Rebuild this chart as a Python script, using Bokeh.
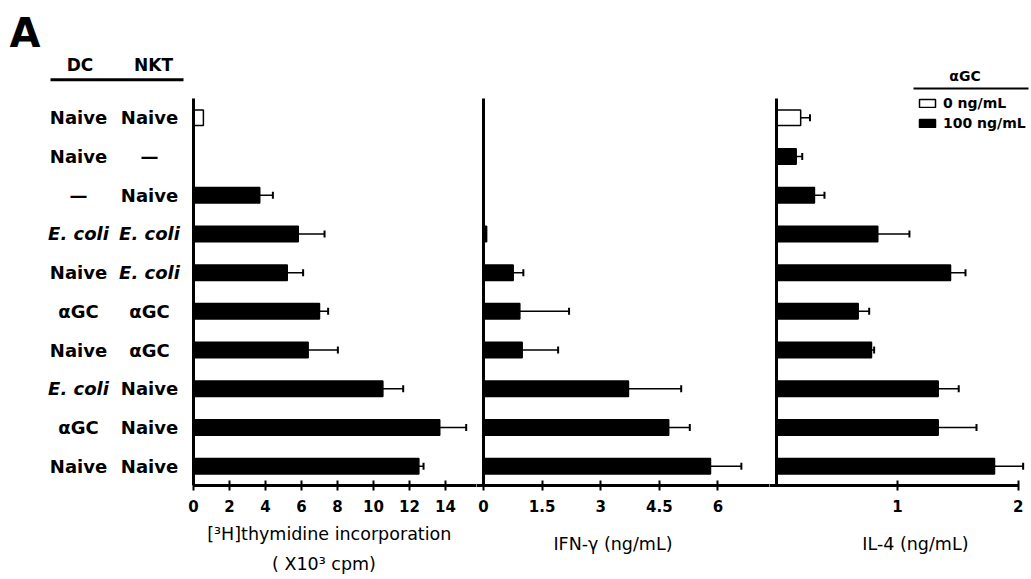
from bokeh.plotting import figure
from bokeh.layouts import row
from bokeh.models import (ColumnDataSource, Range1d, FixedTicker, Whisker, TeeHead,
                          Title, Legend, LegendItem)
from bokeh.transform import factor_cmap
from bokeh.core.properties import value
from bokeh.embed import file_html
from bokeh.resources import INLINE

# ---------------- data ----------------
dc_labels = ["Naive", "Naive", "\u2014", "E. coli", "Naive", "\u03b1GC", "Naive", "E. coli", "\u03b1GC", "Naive"]
nkt_labels = ["Naive", "\u2014", "Naive", "E. coli", "E. coli", "\u03b1GC", "\u03b1GC", "Naive", "Naive", "Naive"]
agc_levels = ["0 ng/mL", "100 ng/mL"]
agc_dose = ["0 ng/mL"] + ["100 ng/mL"] * 9

thy = [0.55, 0.0, 3.68, 5.82, 5.21, 7.00, 6.37, 10.52, 13.68, 12.52]
thy_err = [0.0, 0.0, 0.73, 1.46, 0.88, 0.48, 1.65, 1.13, 1.47, 0.26]
ifn = [0.0, 0.0, 0.0, 0.08, 0.76, 0.93, 0.99, 3.71, 4.74, 5.81]
ifn_err = [0.0, 0.0, 0.0, 0.0, 0.26, 1.26, 0.92, 1.35, 0.54, 0.79]
il4 = [0.20, 0.163, 0.314, 0.838, 1.44, 0.676, 0.786, 1.338, 1.338, 1.804]
il4_err = [0.077, 0.05, 0.083, 0.262, 0.124, 0.091, 0.022, 0.17, 0.317, 0.237]

thy_ticks = [0, 2, 4, 6, 8, 10, 12, 14]
thy_tick_labels = ["0", "2", "4", "6", "8", "10", "12", "14"]
ifn_ticks = [0, 1.5, 3, 4.5, 6]
ifn_tick_labels = ["0", "1.5", "3", "4.5", "6"]
il4_ticks = [1, 2]
il4_tick_labels = ["1", "2"]

thy_title = ["[\u00b3H]thymidine incorporation", "( X10\u00b3 cpm)"]
ifn_title = "IFN-\u03b3 (ng/mL)"
il4_title = "IL-4 (ng/mL)"

# ---------------- layout constants ----------------
FONT = "DejaVu Sans"
H = 579
SPINE_BOTTOM = 485
BOTTOM = H - SPINE_BOTTOM
N = len(dc_labels)
ROW_PX = 38.7
SPINE_TOP = 98.0


def ry(canvas_y):
    return -0.5 + (canvas_y - SPINE_TOP) / ROW_PX


Y_TOP = ry(0)
Y_BOTTOM = N - 0.5

rows = list(range(N))


def make_panel(width, frame_left, zero_px, px_per_unit, vals, errs, ticks, tick_labels,
               axis_from_zero, axis_end=None):
    x_start = (frame_left - zero_px) / px_per_unit
    x_end = x_start + width / px_per_unit
    p = figure(width=width, height=H, x_range=Range1d(x_start, x_end),
               y_range=Range1d(Y_BOTTOM, Y_TOP), output_backend="svg",
               toolbar_location=None, y_axis_location=None,
               min_border_left=0, min_border_right=0, min_border_top=0,
               min_border_bottom=BOTTOM, outline_line_color=None,
               background_fill_color=None, border_fill_color=None)
    p.grid.visible = False
    src = ColumnDataSource(dict(row=rows, val=vals, dose=agc_dose))
    bars = p.hbar(y="row", left=0, right="val", height=0.4, source=src,
                  fill_color=factor_cmap("dose", ["white", "black"], agc_levels),
                  line_color="black", line_width=1.5)
    wr = [i for i in rows if errs[i] > 0]
    wsrc = ColumnDataSource(dict(row=[rows[i] for i in wr],
                                 lower=[vals[i] for i in wr],
                                 upper=[vals[i] + errs[i] for i in wr]))
    w = Whisker(source=wsrc, base="row", lower="lower", upper="upper",
                dimension="width", line_width=1.5, line_color="black",
                upper_head=TeeHead(size=7, line_width=2, line_color="black"),
                lower_head=None, level="glyph")
    p.add_layout(w)
    # y spine at x = 0 over the category band
    p.segment(x0=[0], y0=[-0.5], x1=[0], y1=[Y_BOTTOM], line_width=3, line_color="black")
    ax = p.xaxis[0]
    ax.ticker = FixedTicker(ticks=ticks, minor_ticks=[])
    ax.major_label_overrides = {float(t): l for t, l in zip(ticks, tick_labels)}
    b0 = 0 if axis_from_zero else x_start
    b1 = axis_end if axis_end is not None else x_end
    ax.bounds = (b0, b1)
    ax.axis_line_width = 3
    ax.axis_line_color = "black"
    ax.major_tick_line_width = 2
    ax.major_tick_line_color = "black"
    ax.major_tick_in = 5
    ax.major_tick_out = 5
    ax.minor_tick_line_color = None
    ax.major_label_text_font = FONT
    ax.major_label_text_font_style = "bold"
    ax.major_label_text_font_size = "15px"
    ax.major_label_text_color = "black"
    ax.major_label_standoff = 9
    return p, bars


def add_title(p, text, offset, standoff):
    p.add_layout(Title(text=text, align="left", offset=offset, standoff=standoff,
                       text_font=FONT, text_font_size="17.5px", text_font_style="normal",
                       text_color="black"), "below")


# ---------------- label column figure ----------------
f0 = figure(width=186, height=H, x_range=Range1d(0, 186), y_range=Range1d(Y_BOTTOM, Y_TOP),
            output_backend="svg", toolbar_location=None, x_axis_location=None,
            y_axis_location=None, min_border_left=0, min_border_right=0, min_border_top=0,
            min_border_bottom=BOTTOM, outline_line_color=None,
            background_fill_color=None, border_fill_color=None)
f0.grid.visible = False
lsrc = ColumnDataSource(dict(
    row=rows, dc=dc_labels, nkt=nkt_labels,
    dc_style=["bold italic" if "coli" in s else "bold" for s in dc_labels],
    nkt_style=["bold italic" if "coli" in s else "bold" for s in nkt_labels]))
f0.text(x=78, y="row", text="dc", source=lsrc, text_font=value(FONT),
        text_font_style="dc_style", text_font_size=value("18px"),
        text_align="center", text_baseline="middle", text_color="black")
f0.text(x=149, y="row", text="nkt", source=lsrc, text_font=value(FONT),
        text_font_style="nkt_style", text_font_size=value("18px"),
        text_align="center", text_baseline="middle", text_color="black")
f0.text(x=[79.5, 153], y=[ry(64.5), ry(64.5)], text=["DC", "NKT"], text_font=value(FONT),
        text_font_style="bold", text_font_size=value("17px"), text_align="center",
        text_baseline="middle", text_color="black")
f0.segment(x0=[50], y0=[ry(79.3)], x1=[183], y1=[ry(79.3)], line_width=3, line_color="black")
f0.text(x=[24.5], y=[ry(32.5)], text=["A"], text_font=value(FONT), text_font_style="bold",
        text_font_size=value("40px"), text_align="center", text_baseline="middle",
        text_color="black")

# ---------------- panels ----------------
Z1, S1 = 193.0, 18.0
Z2, S2 = 483.0, 39.07
Z3, S3 = 776.0, 120.85

f1, _ = make_panel(290, 186, Z1, S1, thy, thy_err, thy_ticks, thy_tick_labels, True)
f2, _ = make_panel(293, 476, Z2, S2, ifn, ifn_err, ifn_ticks, ifn_tick_labels, False)
f3, bars3 = make_panel(262, 769, Z3, S3, il4, il4_err, il4_ticks, il4_tick_labels, False,
                       axis_end=2.0)

add_title(f1, thy_title[0], 20.7, 15)
add_title(f1, thy_title[1], 85.6, 0)
add_title(f2, ifn_title, 76.9, 35)
add_title(f3, il4_title, 92.8, 35)

# legend (alpha-GC dose)
f3.text(x=[(964.5 - Z3) / S3], y=[ry(75)], text=["\u03b1GC"], text_font=value(FONT),
        text_font_style="bold", text_font_size=value("14px"), text_align="center",
        text_baseline="middle", text_color="black")
f3.segment(x0=[(913 - Z3) / S3], y0=[ry(88)], x1=[(1028 - Z3) / S3], y1=[ry(88)],
           line_width=2, line_color="black")
legend = Legend(items=[LegendItem(label=agc_levels[0], renderers=[bars3], index=0),
                       LegendItem(label=agc_levels[1], renderers=[bars3], index=1)],
                location=(148, 354), orientation="vertical",
                border_line_color=None, background_fill_alpha=0, padding=0, margin=0,
                spacing=3, glyph_width=20, glyph_height=10, label_standoff=6,
                label_height=17, label_text_font=FONT, label_text_font_style="bold",
                label_text_font_size="14px", label_text_color="black")
f3.add_layout(legend)

layout = row(f0, f1, f2, f3, spacing=0)
open("out.html", "w").write(file_html(layout, INLINE))
